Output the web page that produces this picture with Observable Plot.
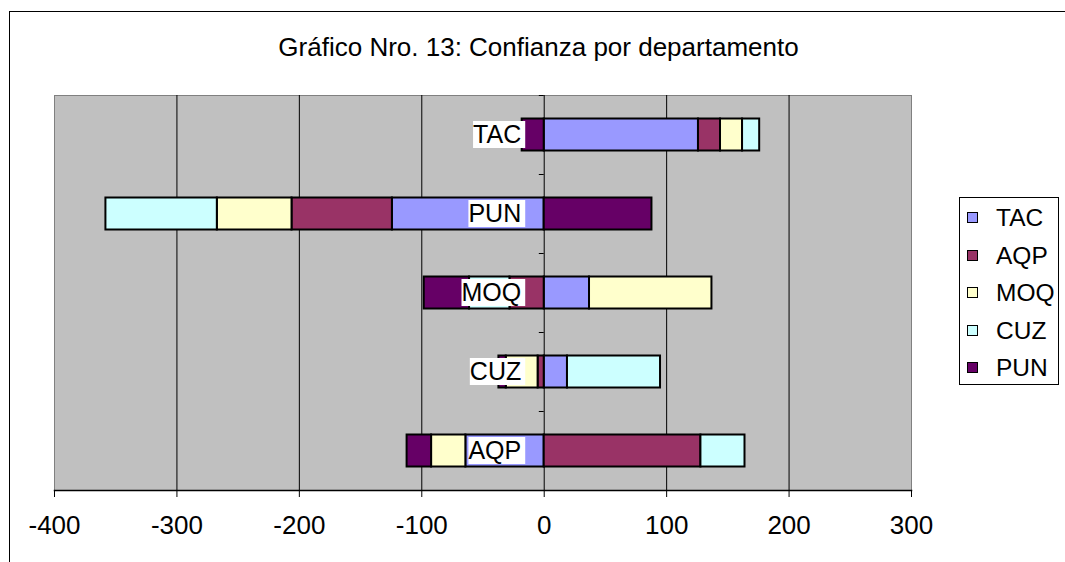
<!DOCTYPE html>
<html>
<head>
<meta charset="utf-8">
<script src="https://cdn.jsdelivr.net/npm/d3@7"></script>
<script src="https://cdn.jsdelivr.net/npm/@observablehq/plot@0.6"></script>
<style>
  body { margin: 0; background: #fff; font-family: "Liberation Sans", Arial, sans-serif; }
  #wrap { position: relative; width: 1065px; height: 562px; overflow: hidden; background: #fff; }
  #frame { position: absolute; left: 9px; top: 11px; width: 1200px; height: 700px; border-left: 1px solid #000; border-top: 1px solid #000; }
  #chart { position: absolute; left: 0; top: 0; }
  #title { position: absolute; left: 0; width: 1077px; top: 32px; text-align: center; font-size: 26px; line-height: 30px; color: #000; white-space: nowrap; }
  #legend { position: absolute; left: 959px; top: 197px; width: 100px; height: 188px; border: 1px solid #000; background: #fff; box-sizing: border-box; }
  .item { position: absolute; left: 7px; height: 30px; line-height: 30px; font-size: 24.5px; color: #000; white-space: nowrap; }
  .sw { position: absolute; left: 0; top: 9px; width: 9px; height: 9px; border: 1.5px solid #000; }
  .lt { position: absolute; left: 29px; top: 0; }
</style>
</head>
<body>
<div id="wrap">
  <div id="frame"></div>
  <div id="chart"></div>
  <div id="title">Gráfico Nro. 13: Confianza por departamento</div>
  <div id="legend"></div>
</div>
<script>
// Categories (rows, top to bottom)
const categories = ["TAC", "PUN", "MOQ", "CUZ", "AQP"];
// Series (legend order)
const series = ["TAC", "AQP", "MOQ", "CUZ", "PUN"];
const seriesColors = ["#9999FF", "#993366", "#FFFFCC", "#CCFFFF", "#660066"];
// Series values per category (same order as categories)
const valuesTAC = [126, -124, 37, 19, -64];
const valuesAQP = [18, -82, -28, -5, 128];
const valuesMOQ = [18, -61, 100, -26, -28];
const valuesCUZ = [14, -91, -33, 76, 36];
const valuesPUN = [-18, 88, -37, -6, -20];
// Axis ticks
const xTicks = [-400, -300, -200, -100, 0, 100, 200, 300];
const gridTicks = [-300, -200, -100, 0, 100, 200];
const titleText = "Gráfico Nro. 13: Confianza por departamento";

const seriesValues = [valuesTAC, valuesAQP, valuesMOQ, valuesCUZ, valuesPUN];
const rows = [];
categories.forEach((c, i) => {
  series.forEach((s, j) => rows.push({cat: c, ser: s, value: seriesValues[j][i]}));
});

const fontFamily = "'Liberation Sans', Arial, sans-serif";

const plot = Plot.plot({
  width: 1065,
  height: 562,
  marginLeft: 54,
  marginRight: 154,
  marginTop: 95,
  marginBottom: 72,
  style: {fontFamily, background: "transparent", color: "#000", overflow: "visible"},
  x: {domain: [-400, 300]},
  y: {domain: categories, padding: 0, axis: null},
  color: {domain: series, range: seriesColors},
  marks: [
    Plot.frame({fill: "#C0C0C0", stroke: "#808080"}),
    Plot.ruleX(gridTicks, {stroke: "#000", strokeWidth: 1}),
    Plot.barX(rows, Plot.stackX({
      x: "value", y: "cat", fill: "ser",
      stroke: "#000", strokeWidth: 2,
      insetTop: 23.5, insetBottom: 23.5
    })),
    Plot.ruleY(categories, {y: d => d, x1: -4, x2: 0, dy: -39.5, stroke: "#000"}),
    Plot.ruleY([categories[categories.length - 1]], {y: d => d, x1: -4, x2: 0, dy: 39.5, stroke: "#000"}),
    Plot.frame({anchor: "bottom", stroke: "#000", strokeWidth: 1.5}),
    Plot.axisX({ticks: xTicks, tickSize: 7, tickPadding: 18, fontSize: 26, tickFormat: d => String(d), label: null}),
    Plot.text(categories, {x: 0, y: d => d, text: d => d, textAnchor: "end", dx: -23, fontSize: 25, fill: "#000", className: "catlabel"})
  ]
});

document.getElementById("chart").appendChild(plot);

// white background boxes behind the category labels
const ns = "http://www.w3.org/2000/svg";
plot.querySelectorAll("g.catlabel text").forEach(t => {
  const b = t.getBBox();
  const r = document.createElementNS(ns, "rect");
  r.setAttribute("x", b.x);
  r.setAttribute("y", b.y + 1);
  r.setAttribute("width", b.width + 4);
  r.setAttribute("height", b.height - 1);
  r.setAttribute("fill", "#fff");
  const tr = t.getAttribute("transform");
  if (tr) r.setAttribute("transform", tr);
  t.parentNode.insertBefore(r, t);
});

// legend
const legend = document.getElementById("legend");
const centers = [20, 57.5, 95, 132.5, 170];
series.forEach((s, i) => {
  const item = document.createElement("div");
  item.className = "item";
  item.style.top = (centers[i] - 15) + "px";
  const sw = document.createElement("span");
  sw.className = "sw";
  sw.style.background = seriesColors[i];
  const lt = document.createElement("span");
  lt.className = "lt";
  lt.textContent = s;
  item.appendChild(sw);
  item.appendChild(lt);
  legend.appendChild(item);
});
</script>
</body>
</html>
